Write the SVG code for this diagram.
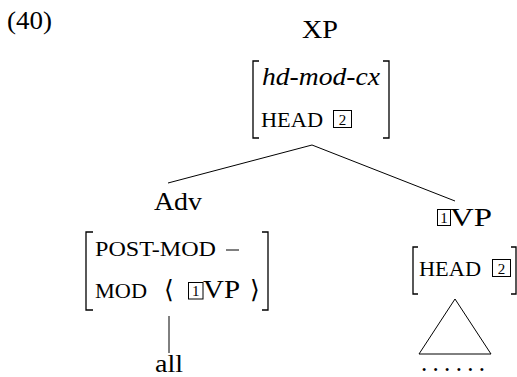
<svg xmlns="http://www.w3.org/2000/svg" width="517" height="377" viewBox="0 0 517 377">
<style>
.t{font-family:'Liberation Serif','DejaVu Serif','Times New Roman',serif;fill:#000;}
.lab{font-size:25px;}
.it{font-size:25px;font-style:italic;}
.sc{font-size:21px;}
.num{font-size:15px;}
.br{fill:none;stroke:#000;stroke-width:1.3;}
.box{fill:none;stroke:#000;stroke-width:1;}
.ln{fill:none;stroke:#000;stroke-width:1;}
</style>
<rect width="517" height="377" fill="#fff"/>
<g class="t" font-family="Liberation Serif, DejaVu Serif, serif">
<text class="lab" x="7" y="29" textLength="45" lengthAdjust="spacingAndGlyphs">(40)</text>
<g id="node-xp">
  <text class="lab" x="302" y="38" textLength="36" lengthAdjust="spacingAndGlyphs">XP</text>
  <path class="br" d="M259 61H253V138H259M383 61H389V138H383"/>
  <text class="it" x="262" y="85" textLength="118" lengthAdjust="spacingAndGlyphs">hd-mod-cx</text>
  <text class="sc" x="261" y="127" textLength="62" lengthAdjust="spacingAndGlyphs">HEAD</text>
  <rect class="box" x="333.5" y="110.5" width="18" height="17"/>
  <text class="num" x="342.5" y="125" text-anchor="middle">2</text>
</g>
<g id="node-adv">
  <text class="lab" x="154" y="210" textLength="48" lengthAdjust="spacingAndGlyphs">Adv</text>
  <path class="br" d="M93 232H86V310H93M262 232H268V310H262"/>
  <text class="sc" x="95" y="256" textLength="121" lengthAdjust="spacingAndGlyphs">POST-MOD</text>
  <line class="ln" x1="226" y1="250" x2="239" y2="250" stroke="#333"/>
  <text class="sc" x="95" y="298" textLength="52" lengthAdjust="spacingAndGlyphs">MOD</text>
  <text class="lab" x="164" y="298">⟨</text>
  <rect class="box" x="188.5" y="282.5" width="14.5" height="16.5"/>
  <text class="num" x="195.7" y="296" text-anchor="middle">1</text>
  <text class="lab" x="203" y="298" textLength="37" lengthAdjust="spacingAndGlyphs">VP</text>
  <text class="lab" x="250" y="298">⟩</text>
</g>
<g id="node-all">
  <text class="lab" x="155" y="372" textLength="28" lengthAdjust="spacingAndGlyphs">all</text>
</g>
<g id="node-vp">
  <rect class="box" x="437.5" y="209.5" width="13" height="16"/>
  <text class="num" x="444" y="223" text-anchor="middle">1</text>
  <text class="lab" x="450" y="226" textLength="42" lengthAdjust="spacingAndGlyphs">VP</text>
  <path class="br" d="M418 247H413V294H418M511 247H516V294H511"/>
  <text class="sc" x="419" y="276" textLength="62" lengthAdjust="spacingAndGlyphs">HEAD</text>
  <rect class="box" x="492.5" y="259.5" width="18" height="17"/>
  <text class="num" x="501.5" y="274" text-anchor="middle">2</text>
</g>
<g id="node-roof">
  <path class="ln" d="M455 299L419 354H491Z"/>
  <text class="lab" x="421" y="371" textLength="64" lengthAdjust="spacing" font-size="18">......</text>
</g>
</g>
<g id="connectors">
  <line class="ln" x1="312" y1="145" x2="168" y2="183"/>
  <line class="ln" x1="312" y1="145" x2="455" y2="201"/>
  <line class="ln" x1="169" y1="316" x2="169" y2="353"/>
</g>
</svg>
